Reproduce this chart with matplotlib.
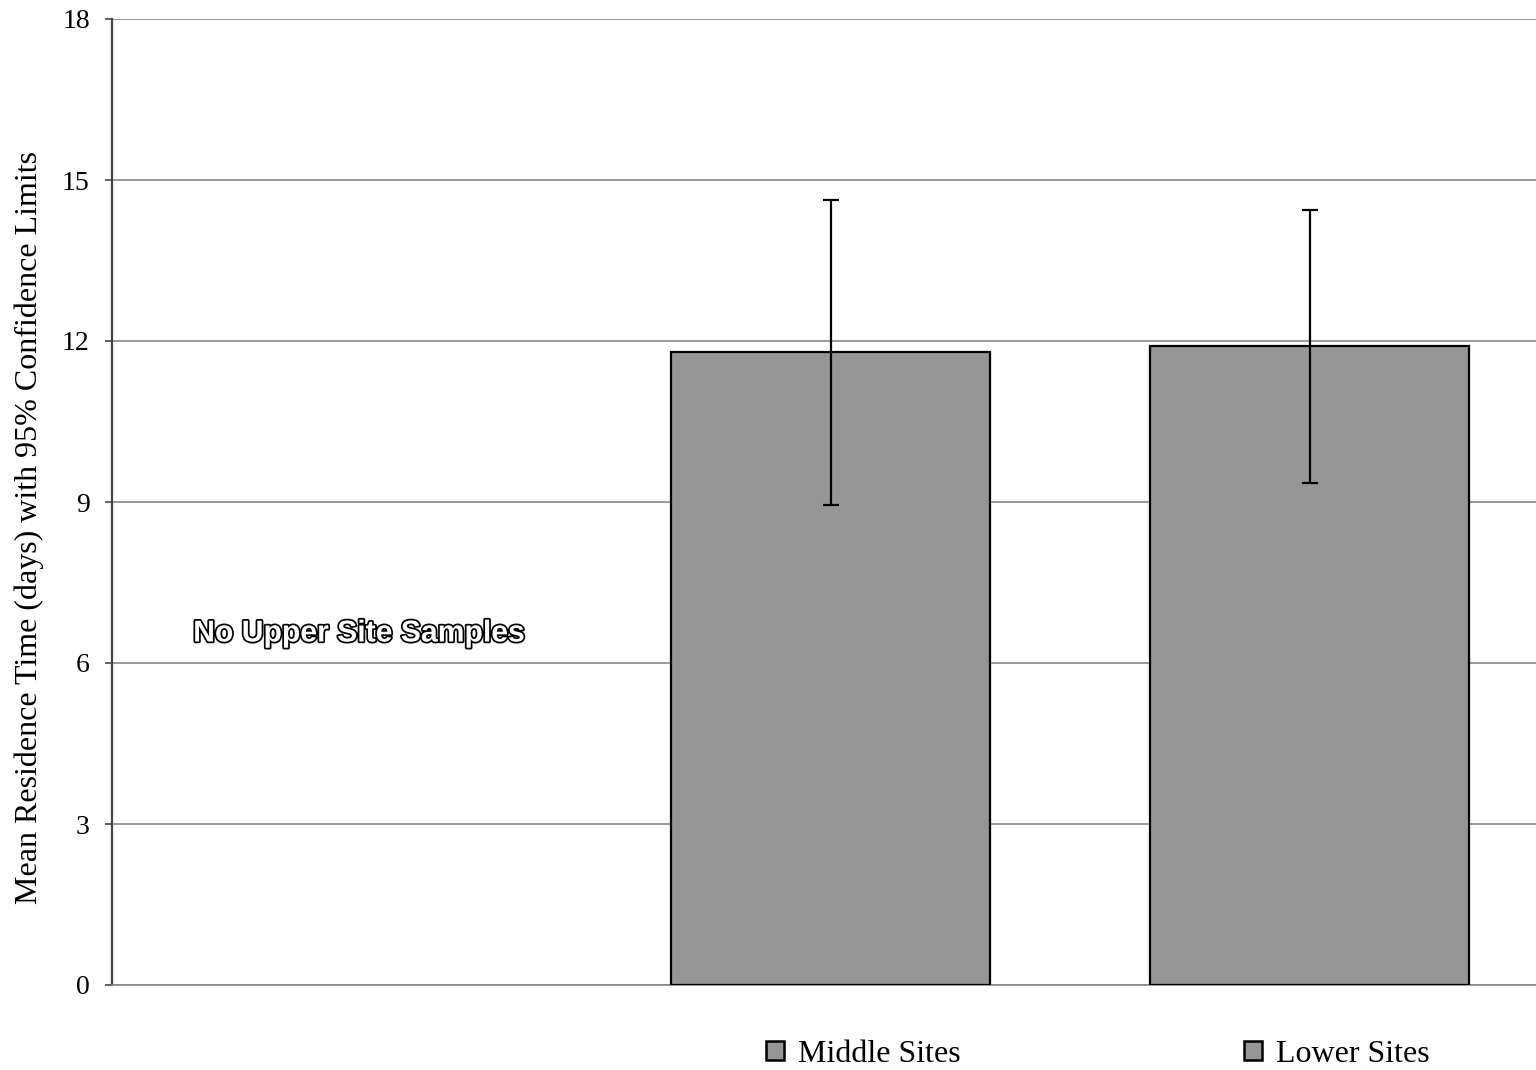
import matplotlib.pyplot as plt
import matplotlib.patheffects as pe
from matplotlib.patches import Patch

sites = ['Upper Sites', 'Middle Sites', 'Lower Sites']
means = [0, 11.8, 11.9]
lower_ci = [0, 8.95, 9.35]
upper_ci = [0, 14.63, 14.44]
y_ticks = [0, 3, 6, 9, 12, 15, 18]

plt.rcParams['font.family'] = ['Liberation Serif', 'DejaVu Serif']

fig = plt.figure(figsize=(15.36, 10.70), dpi=100)
ax = fig.add_axes([112/1536, 1 - 985/1070, 1437/1536, 966/1070])

bar_color = '#969696'
x = [1, 2]  # only middle and lower sites have samples
m = means[1:]
err = [[m[i] - lower_ci[i+1] for i in range(2)], [upper_ci[i+1] - m[i] for i in range(2)]]
ax.bar(x, m, width=0.666, color=bar_color, edgecolor='black', linewidth=1.6, zorder=3)
ax.errorbar(x, m, yerr=err, fmt='none', ecolor='black', elinewidth=1.6,
            capsize=6, capthick=1.6, zorder=4)

ax.set_xlim(-0.5, 2.5)
ax.set_ylim(0, 18)
ax.set_yticks(y_ticks)
ax.tick_params(axis='y', labelsize=20, length=5, width=1.2, color='#444444', pad=11)
ax.set_xticks([])
ax.yaxis.grid(True, color='#888888', linewidth=1.2, zorder=0)
ax.set_axisbelow(True)
for s in ['top', 'right']:
    ax.spines[s].set_visible(False)
ax.spines['left'].set_color('#444444')
ax.spines['left'].set_linewidth(1.6)
ax.spines['bottom'].set_color('#888888')
ax.spines['bottom'].set_linewidth(1.2)

ax.set_ylabel('Mean Residence Time (days) with 95% Confidence Limits', fontsize=23)
ax.yaxis.set_label_coords((44 - 112) / 1437, (985 - 527.5) / 966)

ax.text(0.015, 6.55, 'No Upper Site Samples', ha='center', va='center', fontsize=21.7,
        fontweight='bold', family=['Liberation Sans', 'DejaVu Sans'], color='white',
        path_effects=[pe.Stroke(linewidth=2.5, foreground='black'), pe.Normal()])

# legend entries sit under each bar
for name, xpos in [(sites[1], 766/1536), (sites[2], 1244/1536)]:
    leg = fig.legend(handles=[Patch(facecolor=bar_color, edgecolor='black', linewidth=1.8)],
                     labels=[name], loc='center left', bbox_to_anchor=(xpos, 1 - 1054/1070),
                     frameon=False, fontsize=23, handlelength=0.55, handleheight=0.55,
                     handletextpad=0.45, borderpad=0, borderaxespad=0)

fig.savefig('out.png', dpi=100)
